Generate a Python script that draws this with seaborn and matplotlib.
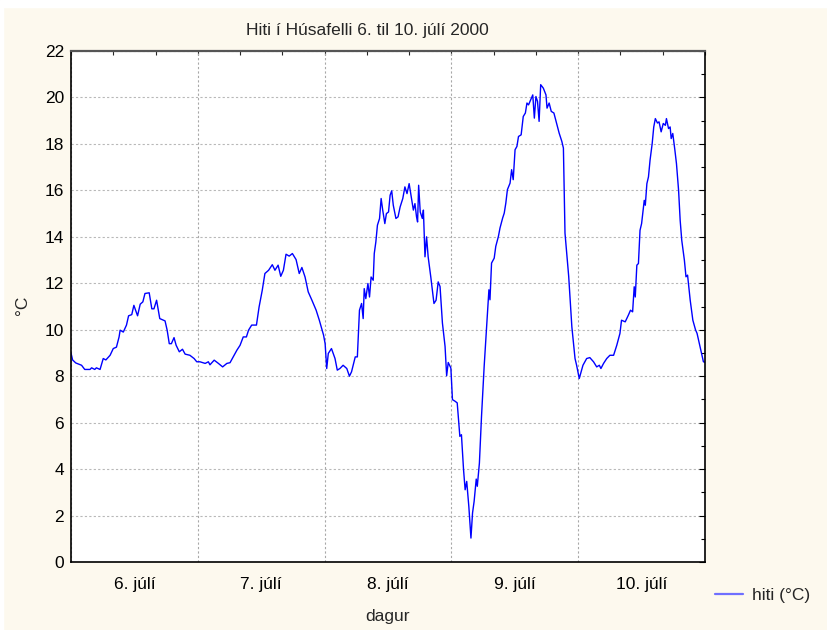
import matplotlib
matplotlib.use("Agg")
import matplotlib.pyplot as plt
import matplotlib.ticker as mticker
from matplotlib.lines import Line2D
import seaborn as sns
import pandas as pd

# time in hours since 6. júlí 00:00, temperature in °C
hours = [0.0, 0.3, 0.9, 2.0, 2.6, 3.6, 3.9, 4.5, 4.8, 5.5, 6.1, 6.6, 7.4, 8.0, 8.6, 9.1, 9.3, 9.9,
         10.5, 10.9, 11.5, 11.9, 12.6, 13.1, 13.6, 14.0, 14.8, 15.3, 15.7, 16.2, 16.8, 17.8, 18.2,
         18.6, 19.0, 19.5, 19.9, 20.5, 21.1, 21.6, 22.5, 23.3, 23.8, 24.4, 25.4, 26.0, 26.3, 27.1,
         27.9, 28.7, 29.5, 30.1, 30.7, 31.4, 32.0, 32.6, 33.2, 33.6, 34.2, 35.1, 35.6, 36.2, 36.7,
         37.4, 38.1, 38.6, 39.2, 39.7, 40.2, 40.7, 41.3, 41.9, 42.6, 43.2, 43.7, 44.3, 44.9, 45.6,
         46.4, 47.0, 47.8, 48.1, 48.4, 48.7, 49.3, 49.97, 50.4, 50.9, 51.5, 52.2, 52.7, 53.1, 53.8,
         54.2, 54.6, 55.0, 55.3, 55.5, 55.8, 56.2, 56.5, 56.8, 57.2, 57.4, 57.7, 58.0, 58.4, 58.7,
         59.0, 59.4, 59.7, 60.1, 60.4, 60.7, 61.0, 61.5, 61.9, 62.3, 62.8, 63.2, 63.6, 64.0, 64.4,
         64.8, 65.1, 65.4, 65.6, 65.8, 66.1, 66.5, 66.7, 67.0, 67.3, 67.6, 68.1, 68.7, 69.1, 69.5,
         69.85, 70.3, 70.8, 71.1, 71.4, 71.9, 72.2, 72.7, 73.1, 73.3, 73.6, 73.9, 74.3, 74.6, 74.9,
         75.3, 75.7, 76.0, 76.3, 76.7, 76.9, 77.3, 77.7, 78.2, 78.7, 79.1, 79.3, 79.6, 80.1, 80.4,
         80.9, 81.2, 81.7, 82.0, 82.3, 82.6, 83.1, 83.4, 83.7, 84.05, 84.4, 84.7, 85.2, 85.6, 86.0,
         86.3, 86.6, 87.0, 87.4, 87.7, 88.0, 88.3, 88.6, 88.9, 89.4, 89.9, 90.1, 90.5, 90.9, 91.4,
         91.9, 92.4, 92.9, 93.2, 93.5, 94.2, 94.8, 95.4, 95.7, 96.2, 96.9, 97.6, 98.2, 98.9, 99.5,
         100.0, 100.3, 100.8, 101.4, 102.0, 102.7, 103.3, 103.9, 104.2, 104.9, 105.5, 105.9, 106.3,
         106.6, 106.8, 107.1, 107.4, 107.7, 108.0, 108.5, 108.7, 109.0, 109.3, 109.6, 110.0, 110.3,
         110.6, 111.0, 111.3, 111.7, 112.1, 112.5, 112.7, 113.1, 113.4, 113.6, 113.9, 114.3, 114.6,
         115.0, 115.3, 115.6, 116.1, 116.4, 116.7, 117.2, 117.7, 118.2, 118.5, 119.0, 119.7, 120.0]
hiti = [9.0, 8.7, 8.57, 8.47, 8.29, 8.29, 8.36, 8.29, 8.36, 8.29, 8.76, 8.7, 8.9, 9.19, 9.25, 9.69,
        9.98, 9.9, 10.2, 10.6, 10.65, 11.05, 10.6, 11.1, 11.2, 11.56, 11.59, 10.9, 10.9, 11.27, 10.48,
        10.38, 9.98, 9.4, 9.4, 9.66, 9.33, 9.05, 9.16, 8.95, 8.9, 8.76, 8.62, 8.62, 8.55, 8.62, 8.49,
        8.69, 8.55, 8.4, 8.55, 8.58, 8.83, 9.12, 9.33, 9.69, 9.69, 9.98, 10.2, 10.2, 10.98, 11.7,
        12.42, 12.56, 12.8, 12.56, 12.78, 12.3, 12.56, 13.25, 13.17, 13.28, 13.02, 12.42, 12.68,
        12.27, 11.63, 11.27, 10.84, 10.41, 9.77, 9.4, 8.33, 8.98, 9.19, 8.76, 8.26, 8.33, 8.47, 8.33,
        8.0, 8.19, 8.83, 8.83, 10.84, 11.13, 10.48, 11.77, 11.34, 11.99, 11.41, 12.27, 12.13, 13.28,
        13.78, 14.5, 14.79, 15.65, 15.15, 14.57, 15.0, 15.07, 15.79, 15.98, 15.36, 14.79, 14.86,
        15.29, 15.65, 16.15, 15.86, 16.29, 15.72, 15.15, 15.43, 14.86, 14.64, 16.22, 15.07, 14.79,
        15.15, 13.14, 14.0, 13.14, 12.27, 11.13, 11.27, 12.06, 11.86, 10.29, 9.28, 8.02, 8.59, 8.35,
        6.99, 6.92, 6.85, 6.27, 5.41, 5.48, 3.97, 3.11, 3.47, 2.39, 1.03, 2.11, 2.61, 3.57, 3.26,
        4.26, 6.27, 8.42, 10.29, 11.72, 11.29, 12.87, 13.08, 13.59, 14.02, 14.38, 14.81, 15.02,
        15.45, 16.03, 16.31, 16.89, 16.46, 17.75, 17.89, 18.32, 18.39, 19.18, 19.33, 19.76, 19.68,
        19.9, 20.11, 19.11, 20.04, 19.83, 18.97, 20.55, 20.4, 20.11, 19.54, 19.76, 19.4, 19.33,
        18.89, 18.46, 18.11, 17.82, 14.16, 12.3, 10.12, 8.76, 8.47, 7.9, 8.47, 8.76, 8.8, 8.62, 8.4,
        8.47, 8.33, 8.55, 8.76, 8.9, 8.9, 9.33, 9.84, 10.41, 10.34, 10.63, 10.84, 10.77, 11.85,
        11.41, 12.78, 12.85, 14.28, 14.57, 15.57, 15.36, 16.29, 16.58, 17.3, 18.01, 18.73, 19.09,
        18.9, 18.95, 18.52, 18.88, 18.8, 19.09, 18.66, 18.73, 18.23, 18.45, 17.73, 17.15, 16.0,
        14.71, 13.85, 12.99, 12.28, 12.35, 11.27, 10.41, 10.0, 9.84, 9.33, 8.62, 8.6]

day_labels = ["6. júlí", "7. júlí", "8. júlí", "9. júlí", "10. júlí"]
title = "Hiti í Húsafelli 6. til 10. júlí 2000"
series_name = "hiti (°C)"

df = pd.DataFrame({"klst": hours, "hiti": hiti})

sns.set_style("white")
plt.rcParams["font.family"] = ["Liberation Sans", "DejaVu Sans"]

FS = 12.5
cream = "#fdf9ee"
fig = plt.figure(figsize=(8.28, 6.30), dpi=100, facecolor=cream)
# white frame strips at the top and left
fig.patches.append(plt.Rectangle((0, 1 - 7 / 630), 1, 7 / 630, transform=fig.transFigure,
                                 color="white", zorder=0))
fig.patches.append(plt.Rectangle((0, 0), 3 / 828, 1, transform=fig.transFigure,
                                 color="white", zorder=0))

ax = fig.add_axes([71 / 828, 1 - 562 / 630, (705 - 71) / 828, (562 - 51) / 630])
ax.set_facecolor("white")

sns.lineplot(data=df, x="klst", y="hiti", ax=ax, color="#0000ff", linewidth=1.0, legend=False)

ax.set_xlim(0, 120)
ax.set_ylim(0, 22)

# y ticks
ax.yaxis.set_major_locator(mticker.MultipleLocator(2))
ax.yaxis.set_minor_locator(mticker.MultipleLocator(1))
ax.yaxis.set_major_formatter(mticker.FormatStrFormatter("%d"))

# x ticks: day boundaries (grid), 6h marks, labels at noon
ax.xaxis.set_major_locator(mticker.MultipleLocator(24))
ax.xaxis.set_major_formatter(mticker.NullFormatter())
ax.xaxis.set_minor_locator(mticker.MultipleLocator(6))


def noon_label(v, pos):
    i = int(round(v))
    if i % 24 == 12:
        d = i // 24
        if 0 <= d < len(day_labels):
            return day_labels[d]
    return ""


ax.xaxis.set_minor_formatter(mticker.FuncFormatter(noon_label))

ax.tick_params(axis="both", which="both", direction="in", colors="black", labelsize=FS)
ax.tick_params(axis="x", which="major", length=5, width=1)
ax.tick_params(axis="x", which="minor", length=3, width=0.8, pad=10.5)
ax.tick_params(axis="y", which="major", length=4, width=0.8, right=True, pad=5)
ax.tick_params(axis="y", which="minor", length=3, width=0.8, right=True)

secx = ax.secondary_xaxis("top")
secx.set_xticks([8 * k for k in range(16)])
secx.tick_params(direction="in", length=3, width=0.8, labeltop=False)
secx.spines["top"].set_visible(False)

ax.grid(True, axis="y", which="major", linestyle=(0, (2, 2)), color="#b8b8b8", linewidth=0.8)
ax.grid(True, axis="x", which="major", linestyle=(0, (2, 2)), color="#a8a8a8", linewidth=0.8)

for s in ax.spines.values():
    s.set_visible(True)
    s.set_color("black")
    s.set_linewidth(1.2)
ax.spines["top"].set_color("#555555")
ax.spines["top"].set_linewidth(1.6)

ax.set_xlabel("dagur", fontsize=FS, va="center")
ax.xaxis.set_label_coords(0.5, (562 - 617) / 511)
ax.set_ylabel("°C", fontsize=FS, va="center")
ax.yaxis.set_label_coords((22 - 71) / 634, 0.503)
fig.text(367 / 828, 1 - 31 / 630, title, ha="center", va="center", fontsize=FS)

# legend
handle = Line2D([], [], color="#6f6fff", linewidth=1.6)
fig.legend(handles=[handle], labels=[series_name], loc="center left",
           bbox_to_anchor=(699 / 828, 1 - 595 / 630), frameon=False, fontsize=12.5,
           handlelength=1.65, handletextpad=0.5)

fig.savefig("out.png", dpi=100, facecolor=cream)
